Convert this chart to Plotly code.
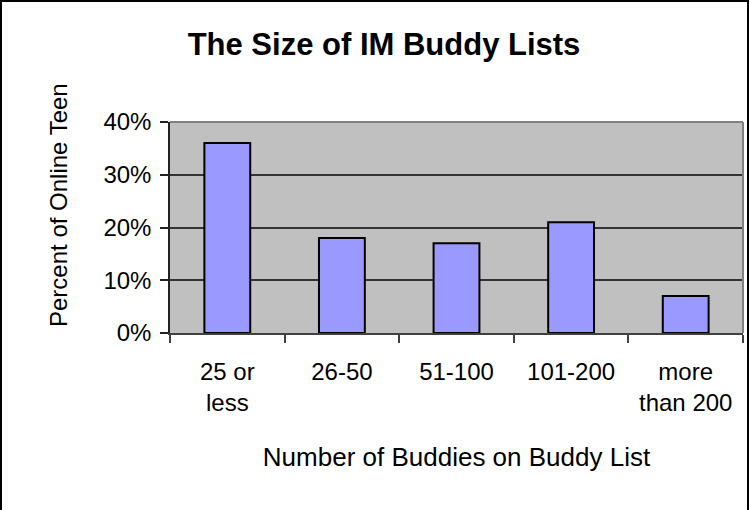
import plotly.graph_objects as go

categories = ["25 or<br>less", "26-50", "51-100", "101-200", "more<br>than 200"]
percent_values = [36, 18, 17, 21, 7]
y_tick_values = [0, 10, 20, 30, 40]
y_tick_labels = ["0%", "10%", "20%", "30%", "40%"]

W, H = 750, 510
ML, MR, MT, MB = 170, 7, 122, 177
PW = W - ML - MR
PH = H - MT - MB

FONT = "Liberation Sans, Arial, sans-serif"

fig = go.Figure()
fig.add_trace(go.Bar(
    x=categories,
    y=percent_values,
    marker=dict(color="#9999FF", line=dict(color="#000000", width=2)),
    hoverinfo="skip",
))

def px2paper_x(px):
    return (px - ML) / PW

def px2paper_y(py):
    return (H - MB - py) / PH

fig.update_layout(
    width=W, height=H,
    margin=dict(l=ML, r=MR, t=MT, b=MB, pad=0),
    paper_bgcolor="white",
    plot_bgcolor="#C0C0C0",
    bargap=0.6,
    showlegend=False,
    font=dict(family=FONT, size=24, color="#000000"),
    title=dict(
        text="<b>The Size of IM Buddy Lists</b>",
        font=dict(family=FONT, size=31, color="#000000"),
        xref="container", yref="container",
        x=384 / W, y=1 - 44 / H, xanchor="center", yanchor="middle",
    ),
    xaxis=dict(
        showgrid=False,
        showline=True, linecolor="#404040", linewidth=2,
        ticks="outside", ticklen=8, tickcolor="#404040", tickwidth=1.5,
        tickson="boundaries",
        tickfont=dict(family=FONT, size=24, color="#000000"),
        ticklabelstandoff=16,
        title=dict(text="Number of Buddies on Buddy List",
                   font=dict(family=FONT, size=26, color="#000000"),
                   standoff=33),
    ),
    yaxis=dict(
        range=[0, 40],
        tickvals=y_tick_values, ticktext=y_tick_labels,
        showgrid=True, gridcolor="#333333", gridwidth=1.5,
        zeroline=False,
        showline=True, linecolor="#222222", linewidth=1.5,
        ticks="outside", ticklen=8, tickcolor="#222222", tickwidth=1.5,
        tickfont=dict(family=FONT, size=24, color="#000000"),
        ticklabelstandoff=4,
    ),
)

# y-axis title as rotated annotation (Excel places it slightly above centre)
fig.add_annotation(
    text="Percent of Online Teen",
    xref="paper", yref="paper",
    x=px2paper_x(58), y=px2paper_y(205),
    xanchor="center", yanchor="middle",
    textangle=-90, showarrow=False,
    font=dict(family=FONT, size=24, color="#000000"),
)

# plot area border: top and right edges grey
fig.add_shape(type="line", xref="paper", yref="paper",
              x0=0, x1=1, y0=1, y1=1, line=dict(color="#808080", width=2), layer="above")
fig.add_shape(type="line", xref="paper", yref="paper",
              x0=1, x1=1, y0=0, y1=1, line=dict(color="#808080", width=2), layer="above")

# chart-area border (black frame)
fig.add_shape(type="rect", xref="paper", yref="paper",
              x0=px2paper_x(1), x1=px2paper_x(748),
              y0=px2paper_y(560), y1=px2paper_y(1),
              line=dict(color="#000000", width=2), fillcolor="rgba(0,0,0,0)",
              layer="above")

fig.write_html("out.html",
               config={"displayModeBar": False},
               post_script="document.body.style.margin='0px';document.body.style.padding='0px';")
